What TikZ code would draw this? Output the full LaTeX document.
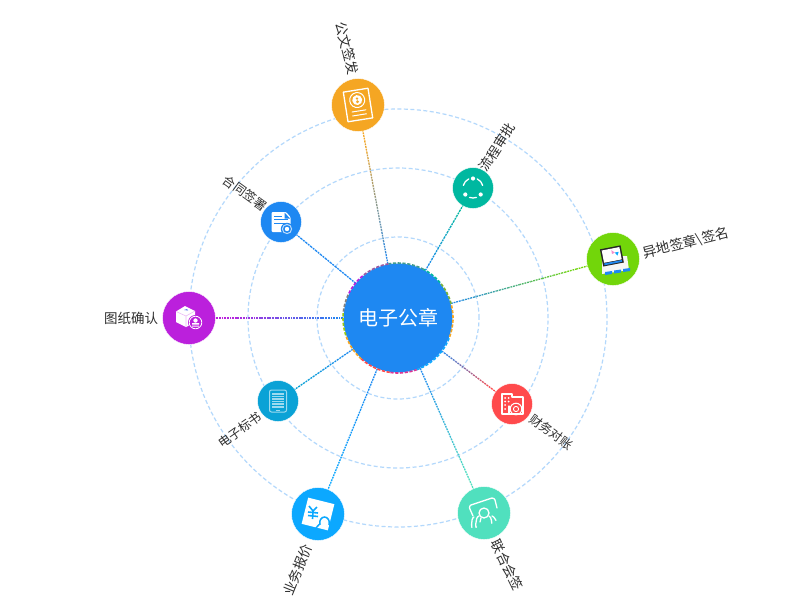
\documentclass[tikz,border=0pt]{standalone}
\usepackage{fontspec}
\setmainfont{Noto Sans CJK SC}
\usetikzlibrary{calc}
\definecolor{cOrange}{HTML}{F5A623}
\definecolor{cTeal}{HTML}{00B8A0}
\definecolor{cGreen}{HTML}{72D60A}
\definecolor{cRed}{HTML}{FF4A4C}
\definecolor{cMint}{HTML}{50E0BE}
\definecolor{cSky}{HTML}{0CA8FF}
\definecolor{cCyan}{HTML}{0AA2D6}
\definecolor{cPurple}{HTML}{BB20DC}
\definecolor{cBlue}{HTML}{1E88F2}
\definecolor{cGuide}{HTML}{B3D8FC}
\tikzset{
  guide/.style={draw=cGuide,line width=1.2pt,dash pattern=on 4pt off 2.5pt},
  big/.style={circle,inner sep=0pt,outer sep=0pt,minimum size=53pt,draw=white,line width=0.4pt},
  small/.style={circle,inner sep=0pt,outer sep=0pt,minimum size=41pt,draw=white,line width=0.4pt},
  lab/.style={font=\fontsize{13.5}{14}\selectfont,text=black!82,inner sep=0pt},
  ico/.style={draw=white,line width=1.3pt,line join=round,line cap=round},
  icf/.style={fill=white,draw=none}
}
\newcommand{\linkto}[2]{%
  \path (ct) -- (#1) coordinate[pos=0] (sA) coordinate[pos=1] (sB);
  \foreach \i in {0,...,11}{
    \pgfmathsetmacro{\mixv}{min(100,\i*9+5)}
    \pgfmathsetmacro{\tA}{\i/12}
    \pgfmathsetmacro{\tB}{(\i+1)/12}
    \draw[color=#2!\mixv!cBlue,line width=1.3pt,dash pattern=on 1.8pt off 0.9pt]
      ($(sA)!\tA!(sB)$) -- ($(sA)!\tB!(sB)$);
  }}
\begin{document}
\begin{tikzpicture}[x=1pt,y=-1pt]
\useasboundingbox (0,0) rectangle (810,615);
\fill[white] (0,0) rectangle (810,615);
\coordinate (c0) at (398,318);
\draw[guide] (c0) circle[radius=81pt];
\draw[guide] (c0) circle[radius=150pt];
\draw[guide] (c0) circle[radius=209pt];

\node[big,fill=cOrange] (n1) at (358,105) {};
\node[small,fill=cTeal] (n2) at (473,188) {};
\node[big,fill=cGreen] (n3) at (613,259) {};
\node[small,fill=cRed] (n4) at (512,404) {};
\node[big,fill=cMint] (n5) at (484,513) {};
\node[big,fill=cSky] (n6) at (318,514) {};
\node[small,fill=cCyan] (n7) at (278,401) {};
\node[big,fill=cPurple] (n8) at (189,318) {};
\node[small,fill=cBlue] (n9) at (281,222) {};
\node[circle,inner sep=0pt,outer sep=0pt,minimum size=110pt] (ct) at (398,318) {};

\linkto{n1}{cOrange}
\linkto{n2}{cTeal}
\linkto{n3}{cGreen}
\linkto{n4}{cRed}
\linkto{n5}{cMint}
\linkto{n6}{cSky}
\linkto{n7}{cCyan}
\linkto{n8}{cPurple}
\linkto{n9}{cBlue}

% centre disc and multicolour dashed ring
\node[circle,inner sep=0pt,outer sep=0pt,minimum size=109pt,fill=cBlue,text=white,font=\fontsize{20}{20}\selectfont] (cc) at (398,318) {电子公章};
\foreach \a/\b/\col in {
  -20/15/cOrange, 15/40/cGreen!60!gray, 40/62/cTeal, 62/100/cTeal!50!gray,
  100/130/cPurple!40!gray, 130/155/cPurple, 155/175/gray, 175/200/cGreen!70!cOrange,
  200/228/cOrange, 228/262/cRed, 262/290/cRed!50!cPurple, 290/320/cSky, 320/340/cSky}{
  \draw[color=\col,line width=1.6pt,dash pattern=on 3.2pt off 1.6pt]
    ($(c0)+(\a:55pt)$) arc[start angle=\a,end angle=\b,radius=55pt];
}

% labels
\node[lab,rotate=-76] (t1) at (347,48) {公文签发};
\node[lab,rotate=57] (t2) at (497,147) {流程审批};
\node[lab,rotate=14,font=\fontsize{13.8}{14}\selectfont] (t3) at (686,243) {异地签章\textbackslash 签名};
\node[lab,rotate=-36,font=\fontsize{12.5}{13}\selectfont] (t4) at (551,432) {财务对账};
\node[lab,rotate=-64] (t5) at (507,565) {联合会签};
\node[lab,rotate=68] (t6) at (298,570) {业务报价};
\node[lab,rotate=35,font=\fontsize{12.5}{13}\selectfont] (t7) at (240,430) {电子标书};
\node[lab] (t8) at (131,318) {图纸确认};
\node[lab,rotate=-36,font=\fontsize{12.5}{13}\selectfont] (t9) at (245,193) {合同签署};

% icon: official document
\begin{scope}[shift={(358,105)},rotate=9]
  \draw[ico] (-12.5,-15) rectangle (12.5,15);
  \draw[ico,line width=1pt] (0,-5) circle[radius=7.5pt];
  \fill[white] (0,-5) circle[radius=5pt];
  \fill[cOrange] (0,-6.5) circle[radius=1.3pt];
  \fill[cOrange] (0,-3.3) circle[radius=1.6pt];
  \draw[ico,line width=1pt] (-7,6) -- (7,6) (-7,10) -- (7,10);
\end{scope}

% icon: workflow
\begin{scope}[shift={(473,188)}]
  \fill[white] (0,-9.5) circle[radius=2.1pt] (-7.7,6.5) circle[radius=2.1pt] (7.7,6.5) circle[radius=2.1pt];
  \draw[ico] ($(0,0)+(65:10pt)$) arc[start angle=65,end angle=15,radius=10pt];
  \draw[ico] ($(0,0)+(115:10pt)$) arc[start angle=115,end angle=165,radius=10pt];
  \draw[ico] ($(0,0)+(-70:10pt)$) arc[start angle=-70,end angle=-110,radius=10pt];
\end{scope}

% icon: laptop on stand
\begin{scope}[shift={(613,259)}]
  \fill[white!93!gray] (-11,-2) -- (14,-3) -- (16,11) -- (-11,15) -- cycle;
  \begin{scope}[rotate=11]
    \fill[black!85] (-11,-12) rectangle (10,5.5);
    \fill[white] (-9.5,-10.5) rectangle (8.5,2);
    \fill[cBlue] (-9.5,2.7) rectangle (8.5,4.5);
    \fill[cSky] (3,-6) -- (7,-6) -- (5,-2.5) -- cycle;
    \fill[magenta!45] (0,-9) -- (3,-6) -- (0,-5) -- cycle;
  \end{scope}
  \fill[cBlue] (-8,13) -- (-1,12) -- (-1,15) -- (-8,16) -- cycle;
  \fill[cBlue] (1,11.5) -- (8,10.5) -- (8,13.5) -- (1,14.5) -- cycle;
  \fill[cBlue] (10,10) -- (17,9) -- (17,12) -- (10,13) -- cycle;
\end{scope}

% icon: finance
\begin{scope}[shift={(512,404)}]
  \draw[ico] (-10,10) -- (-10,-10) -- (0,-10) -- (0,-7) -- (11,-7) -- (11,10) -- cycle;
  \draw[ico] (-3,10) -- (-3,2);
  \foreach \p in {(-7,-6),(-3.5,-6),(-7,-2.5),(-3.5,-2.5),(-7,1),(-7,5)}{\fill[white] \p circle[radius=1pt];}
  \draw[ico,line width=1pt] (4,5) circle[radius=5.8pt];
  \draw[ico,line width=0.9pt] (4,5) circle[radius=2.6pt];
\end{scope}

% icon: joint signing
\begin{scope}[shift={(484,513)}]
  \draw[ico] (-11,3) -- (-14.5,-5) to[out=-100,in=170] (-13,-8) -- (8,-15) to[out=-10,in=100] (11,-13) -- (13,-5);
  \draw[ico] (0,0) circle[radius=5pt];
  \draw[ico] (-7.5,14) to[out=-100,in=-170] (-5,3);
  \draw[ico] (7.5,10) to[out=-80,in=-10] (5,3);
  \draw[ico] (-12,14) to[out=-90,in=-160] (-10,4);
  \draw[ico] (12,7) to[out=-80,in=0] (8,3);
  \draw[ico] (-3,5) to[out=-120,in=90] (-4,9);
\end{scope}

% icon: quotation
\begin{scope}[shift={(318,514)},rotate=-14]
  \fill[white] (-13.5,-13.5) rectangle (13.5,13.5);
\end{scope}
\begin{scope}[shift={(318,514)}]
  \draw[cSky,line width=1.6pt] (-9,-8) -- (-5,-3) -- (-1,-7) (-5,-3) -- (-5.5,5) (-10,-2) -- (0,-1) (-10,1.5) -- (0,2.5);
  \draw[cSky,line width=1.5pt] (-2,13) to[out=-90,in=200] (2,10) to[out=110,in=180] (6.5,3) to[out=0,in=70] (11,10) to[out=-20,in=-90] (12.5,14);
\end{scope}

% icon: tender book
\begin{scope}[shift={(278,401)}]
  \draw[white!60!cCyan,line width=1pt,rounded corners=2pt] (-8.5,-11) rectangle (8.5,11);
  \fill[white!60!cCyan] (-6,-8.5) rectangle (6,7);
  \foreach \y in {-6,-3.5,-1,1.5,4}{\draw[cCyan,line width=0.4pt] (-6,\y) -- (6,\y);}
  \draw[white!60!cCyan,line width=0.8pt] (-2,9) -- (2,9);
\end{scope}

% icon: drawing confirmation
\begin{scope}[shift={(189,318)}]
  \fill[white] (-13,-6.5) -- (-4,-12) -- (6,-7) -- (6,5) -- (-3,9) -- (-13,4) -- cycle;
  \draw[cPurple!30,line width=0.6pt] (-13,-6.5) -- (-3,-2) -- (6,-7) (-3,-2) -- (-3,9);
  \fill[cPurple!40!cSky] (-5,-8) -- (-2,-9) -- (-1,-7.5) -- cycle;
  \fill[cPurple] (6.5,4.5) circle[radius=7.5pt];
  \draw[white,line width=0.8pt] (6.5,4.5) circle[radius=6.3pt];
  \fill[white] (6.5,2.5) circle[radius=2.2pt];
  \fill[white] (3,5) rectangle (10,6.5) (3,7.5) rectangle (10,8.5);
\end{scope}

% icon: contract
\begin{scope}[shift={(281,222)}]
  \fill[white,rounded corners=1pt] (-9.5,-10) -- (5,-10) -- (9.5,-5) -- (9.5,10) -- (-9.5,10) -- cycle;
  \fill[cBlue] (3.5,-9.5) -- (3.5,-3.5) -- (9,-3.5) -- cycle;
  \draw[cBlue,line width=1pt] (-7,-6) -- (1,-6) (-7,-2.5) -- (7,-2.5) (-7,1) -- (5,1);
  \fill[cBlue] (6,7) circle[radius=6.2pt];
  \draw[white!70!cBlue,line width=1pt] (6,7) circle[radius=4.6pt];
  \fill[white] (6,7) circle[radius=2.2pt];
\end{scope}
\end{tikzpicture}
\end{document}
